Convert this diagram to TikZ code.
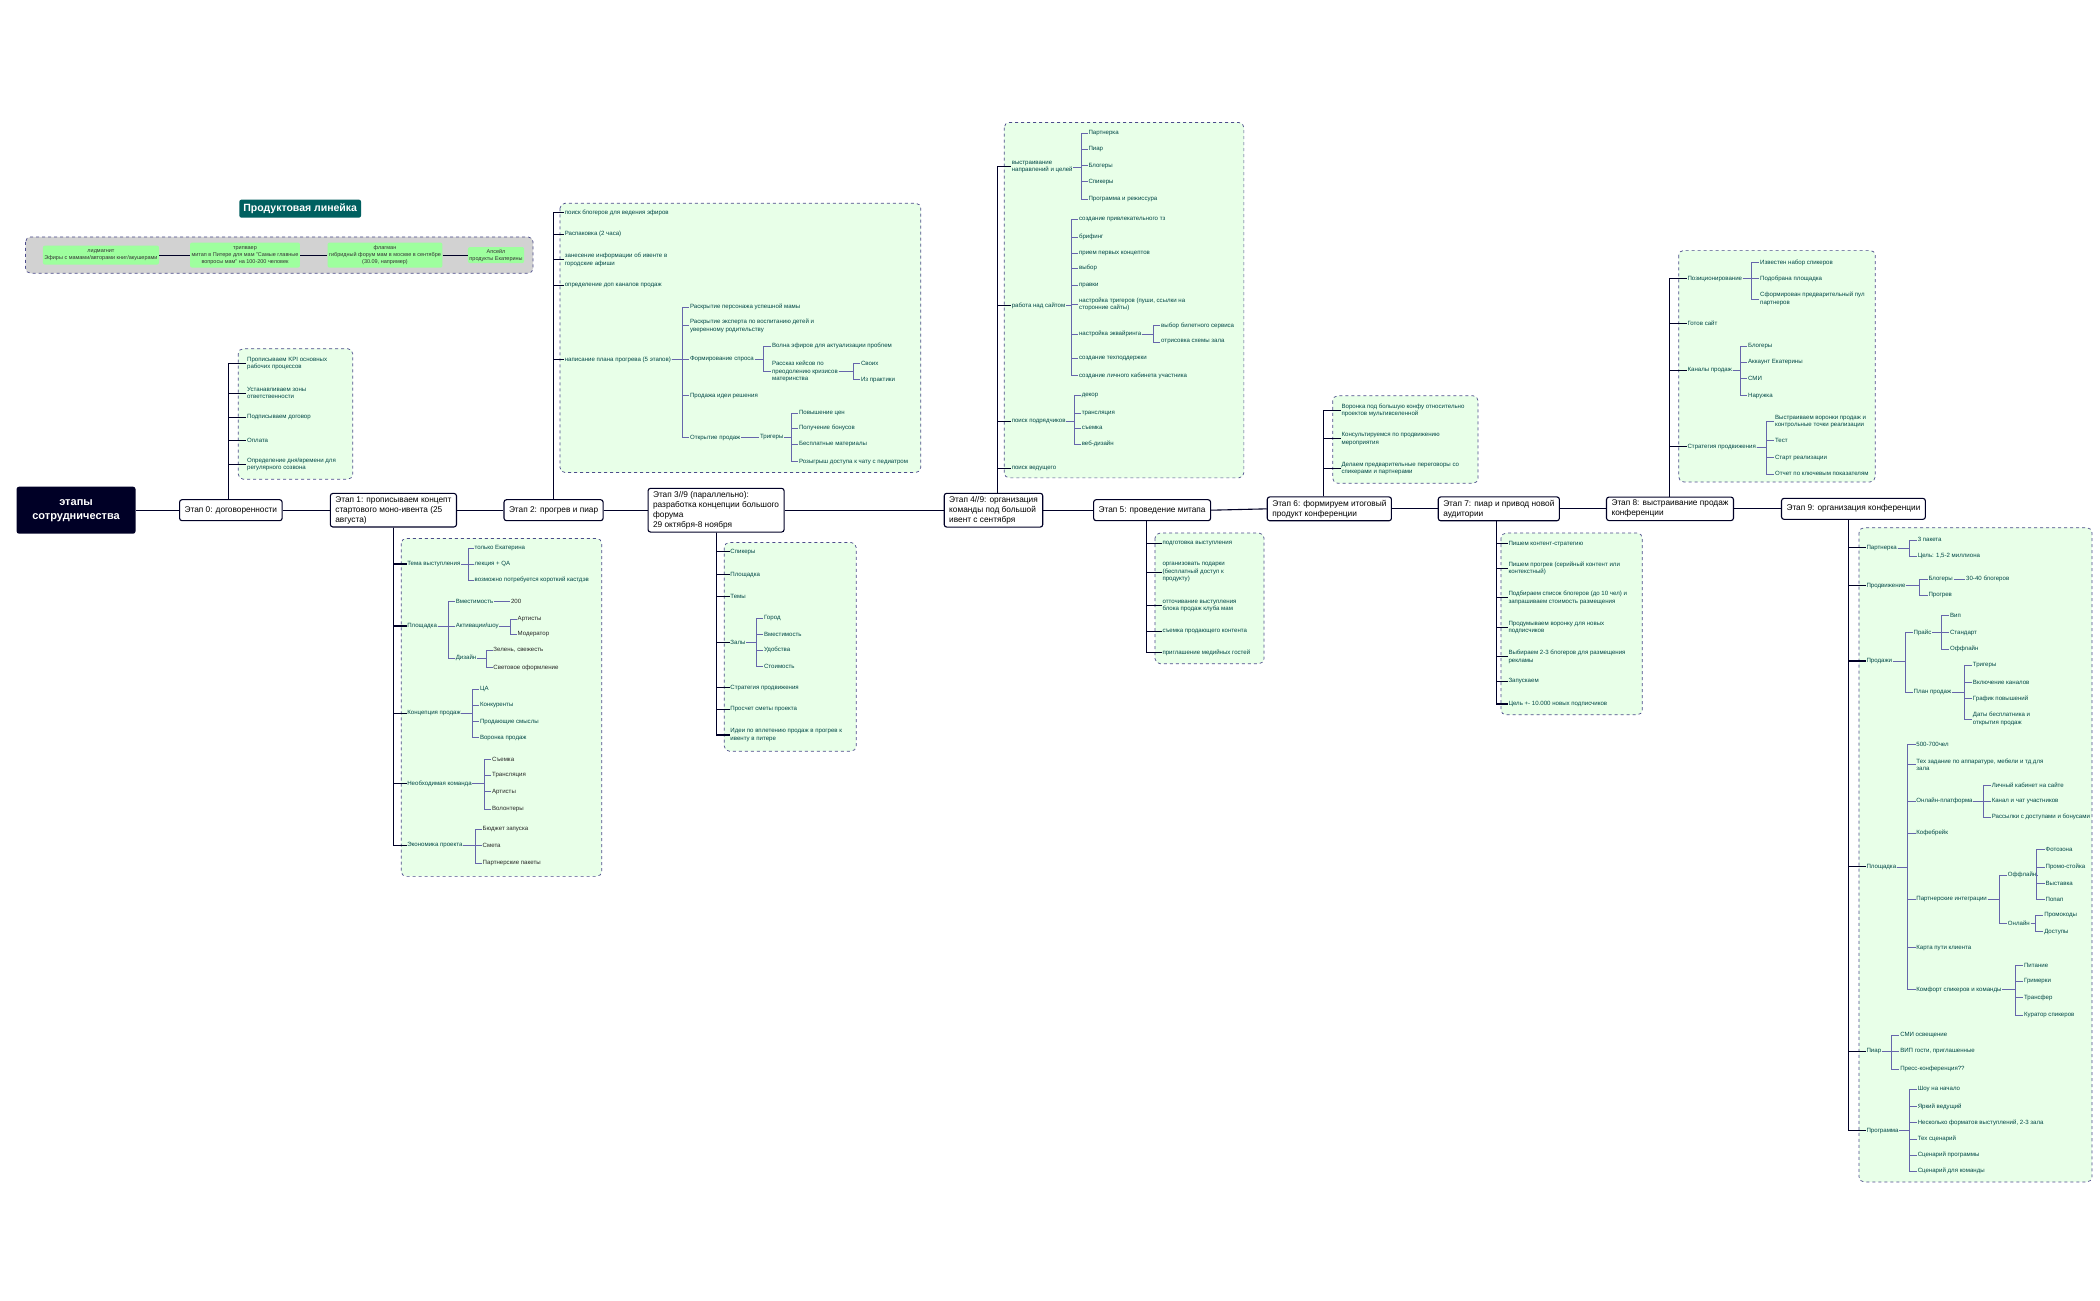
\documentclass[tikz,border=0pt]{standalone}
\usepackage{fontspec}
\setmainfont{Liberation Sans}
\begin{document}
\begin{tikzpicture}[x=1.346pt,y=-1.346pt,
 lf/.style={anchor=west,inner sep=0.6pt,text=teal!55!black,font=\fontsize{6.1}{7.4}\selectfont,align=left},
 lfb/.style={lf,text=black!85},
 stg/.style={draw=black!85!blue,line width=1.1pt,rounded corners=2.5pt,fill=white,anchor=west,inner xsep=5pt,inner ysep=3pt,align=left,font=\fontsize{8.3}{10}\selectfont},
 grp/.style={draw=black!65!blue!70,dashed,line width=0.7pt,fill=green!9,rounded corners=5pt},
 sp/.style={draw=black!85!blue,line width=1.1pt},
 sub/.style={draw=black!55!blue!60,line width=0.6pt},
 prod/.style={fill=green!38,inner sep=1.5pt,align=center,font=\fontsize{5.5}{7}\selectfont,rounded corners=2pt,text=black!80}]
\newcommand\myleaf[5][lf]{\node[#1] (#2) at (#3,#4) {#5};}
\newcommand\mybr[3]{\coordinate (tmpx) at (#2,0); \draw[sub] (#1.east) -- (#1.east -| tmpx) |- (#3.west);}
\newcommand\mysp[3]{\coordinate (tmpx) at (#2,0); \draw[sp] (#1 -| tmpx) |- (#3.west);}
\useasboundingbox[fill=white] (0,0) rectangle (1560,966);

% ---------- product line
\node[fill=teal!75!black,text=white,font=\bfseries\fontsize{10.5}{12}\selectfont,rounded corners=2pt,inner sep=4pt] (title) at (223,155) {Продуктовая линейка};
\draw[grp,fill=gray!35] (19,176) rectangle (396,203);
\node[prod,minimum width=104,minimum height=19] (p1) at (75,189.5) {лидмагнит\\Эфиры с мамами/авторами книг/акушерами};
\node[prod,minimum width=93,minimum height=25] (p2) at (182,189.5) {трипваер\\митап в Питере для мам "Самые главные\\вопросы мам" на 100-200 человек};
\node[prod,minimum width=97,minimum height=25] (p3) at (286,189.5) {флагман\\гибридный форум мам в москве в сентябре\\(30.09, например)};
\node[prod,minimum width=48,minimum height=16] (p4) at (368.5,189.5) {Апсейл\\продукты Екатерины};
\draw[sp,line width=0.7pt] (p1) -- (p2) -- (p3) -- (p4);

% ---------- group boxes
\draw[grp] (177,259) rectangle (262,356);
\draw[grp] (298,400) rectangle (447,651);
\draw[grp] (416,151) rectangle (684,351);
\draw[grp] (538,403) rectangle (636,558);
\draw[grp] (746,91) rectangle (924,355);
\draw[grp] (858,396) rectangle (939,493);
\draw[grp] (990,294) rectangle (1098,359);
\draw[grp] (1115,396) rectangle (1220,531);
\draw[grp] (1247,186) rectangle (1393,358);
\draw[grp] (1381,392) rectangle (1554,878);

% ---------- main chain
\node[fill=black!85!blue,text=white,rounded corners=2.5pt,font=\bfseries\fontsize{11}{14}\selectfont,align=center,minimum width=119,minimum height=47] (root) at (56.5,379) {этапы\\сотрудничества};
\node[stg,minimum height=21] (s0) at (133,379) {Этап 0: договоренности};
\node[stg] (s1) at (245,379) {Этап 1: прописываем концепт\\стартового моно-ивента (25\\августа)};
\node[stg,minimum height=21] (s2) at (374,379) {Этап 2: прогрев и пиар};
\node[stg] (s3) at (481,379) {Этап 3//9 (параллельно):\\разработка концепции большого\\форума\\29 октября-8 ноября};
\node[stg] (s4) at (701,379) {Этап 4//9: организация\\команды под большой\\ивент с сентября};
\node[stg,minimum height=21] (s5) at (812,379) {Этап 5: проведение митапа};
\node[stg] (s6) at (941,378) {Этап 6: формируем итоговый\\продукт конференции};
\node[stg] (s7) at (1068,378) {Этап 7: пиар и привод новой\\аудитории};
\node[stg] (s8) at (1193,378) {Этап 8: выстраивание продаж\\конференции};
\node[stg,minimum height=21] (s9) at (1323,378) {Этап 9: организация конференции};
\foreach \a/\b in {root/s0,s0/s1,s1/s2,s2/s3,s3/s4,s4/s5,s5/s6,s6/s7,s7/s8,s8/s9}
  \draw[sp] (\a.east) -- (\b.west);

% ---------- stage 0
\myleaf{a1}{183}{270}{Прописываем KPI основных\\рабочих процессов}
\myleaf{a2}{183}{292}{Устанавливаем зоны\\ответственности}
\myleaf{a3}{183}{310}{Подписываем договор}
\myleaf{a4}{183}{327}{Оплата}
\myleaf{a5}{183}{345}{Определение дня/времени для\\регулярного созвона}
\foreach \c in {a1,a2,a3,a4,a5} {\mysp{s0.north}{170}{\c}}

% ---------- stage 1
\myleaf{b1}{302}{419}{Тема выступления}
\myleaf{b2}{302}{465}{Площадка}
\myleaf{b3}{302}{530}{Концепция продаж}
\myleaf{b4}{302}{582}{Необходимая команда}
\myleaf{b5}{302}{628}{Экономика проекта}
\foreach \c in {b1,b2,b3,b4,b5} {\mysp{s1.south}{292}{\c}}
\myleaf{b11}{352}{407}{только Екатерина}
\myleaf{b12}{352}{419}{лекция + QA}
\myleaf{b13}{352}{431}{возможно потребуется короткий кастдэв}
\foreach \c in {b11,b12,b13} {\mybr{b1}{348}{\c}}
\myleaf{b21}{338}{447}{Вместимость}
\myleaf{b22}{338}{465}{Активации/шоу}
\myleaf{b23}{338}{489}{Дизайн}
\foreach \c in {b21,b22,b23} {\mybr{b2}{333}{\c}}
\myleaf[lfb]{b211}{379}{447}{200}
\draw[sub] (b21) -- (b211);
\myleaf[lfb]{b221}{384}{460}{Артисты}
\myleaf[lfb]{b222}{384}{471}{Модератор}
\foreach \c in {b221,b222} {\mybr{b22}{379}{\c}}
\myleaf[lfb]{b231}{366}{483}{Зелень, свежесть}
\myleaf[lfb]{b232}{366}{496}{Световое оформление}
\foreach \c in {b231,b232} {\mybr{b23}{361}{\c}}
\myleaf{b31}{356}{512}{ЦА}
\myleaf{b32}{356}{524}{Конкуренты}
\myleaf{b33}{356}{536}{Продающие смыслы}
\myleaf{b34}{356}{548}{Воронка продаж}
\foreach \c in {b31,b32,b33,b34} {\mybr{b3}{351}{\c}}
\myleaf[lfb]{b41}{365}{564}{Съемка}
\myleaf[lfb]{b42}{365}{576}{Трансляция}
\myleaf[lfb]{b43}{365}{588}{Артисты}
\myleaf[lfb]{b44}{365}{601}{Волонтеры}
\foreach \c in {b41,b42,b43,b44} {\mybr{b4}{360}{\c}}
\myleaf[lfb]{b51}{358}{616}{Бюджет запуска}
\myleaf[lfb]{b52}{358}{628}{Смета}
\myleaf[lfb]{b53}{358}{641}{Партнерские пакеты}
\foreach \c in {b51,b52,b53} {\mybr{b5}{353}{\c}}

% ---------- stage 2
\myleaf{c1}{419}{158}{поиск блогеров для ведения эфиров}
\myleaf{c2}{419}{174}{Распаковка (2 часа)}
\myleaf{c3}{419}{193}{занесение информации об ивенте в\\городские афиши}
\myleaf{c4}{419}{212}{определение доп каналов продаж}
\myleaf{c5}{419}{267}{написание плана прогрева (5 этапов)}
\foreach \c in {c1,c2,c3,c4,c5} {\mysp{s2.north}{411}{\c}}
\myleaf{c51}{512}{228}{Раскрытие персонажа успешной мамы}
\myleaf{c52}{512}{242}{Раскрытие эксперта по воспитанию детей и\\уверенному родительству}
\myleaf{c53}{512}{267}{Формирование спроса}
\myleaf{c54}{512}{294}{Продажа идеи решения}
\myleaf{c55}{512}{325}{Открытие продаж}
\foreach \c in {c51,c52,c53,c54,c55} {\mybr{c5}{507}{\c}}
\myleaf{c531}{573}{257}{Волна эфиров для актуализации проблем}
\myleaf{c532}{573}{276}{Рассказ кейсов по\\преодолению кризисов\\материнства}
\foreach \c in {c531,c532} {\mybr{c53}{567}{\c}}
\myleaf{c5321}{639}{270}{Своих}
\myleaf{c5322}{639}{282}{Из практики}
\foreach \c in {c5321,c5322} {\mybr{c532}{634}{\c}}
\myleaf{c551}{564}{325}{Тригеры}
\draw[sub] (c55) -- (c551);
\myleaf{c5511}{593}{307}{Повышение цен}
\myleaf{c5512}{593}{318}{Получение бонусов}
\myleaf{c5513}{593}{330}{Бесплатные материалы}
\myleaf{c5514}{593}{343}{Розыгрыш доступа к чату с педиатром}
\foreach \c in {c5511,c5512,c5513,c5514} {\mybr{c551}{588}{\c}}

% ---------- stage 3
\myleaf{d1}{542}{410}{Спикеры}
\myleaf{d2}{542}{427}{Площадка}
\myleaf{d3}{542}{443}{Темы}
\myleaf{d4}{542}{477}{Залы}
\myleaf{d5}{542}{511}{Стратегия продвижения}
\myleaf{d6}{542}{527}{Просчет сметы проекта}
\myleaf{d7}{542}{546}{Идеи по вплетению продаж в прогрев к\\ивенту в питере}
\foreach \c in {d1,d2,d3,d4,d5,d6,d7} {\mysp{s3.south}{532}{\c}}
\myleaf{d41}{567}{459}{Город}
\myleaf{d42}{567}{471}{Вместимость}
\myleaf{d43}{567}{483}{Удобства}
\myleaf{d44}{567}{495}{Стоимость}
\foreach \c in {d41,d42,d43,d44} {\mybr{d4}{562}{\c}}

% ---------- stage 4
\myleaf{e1}{751}{124}{выстраивание\\направлений и целей}
\myleaf{e2}{751}{227}{работа над сайтом}
\myleaf{e3}{751}{313}{поиск подрядчиков}
\myleaf{e4}{751}{348}{поиск ведущего}
\foreach \c in {e1,e2,e3,e4} {\mysp{s4.north}{741}{\c}}
\myleaf{e11}{808}{99}{Партнерка}
\myleaf{e12}{808}{111}{Пиар}
\myleaf{e13}{808}{123}{Блогеры}
\myleaf{e14}{808}{135}{Спикеры}
\myleaf{e15}{808}{148}{Программа и режиссура}
\foreach \c in {e11,e12,e13,e14,e15} {\mybr{e1}{803}{\c}}
\myleaf{e21}{801}{163}{создание привлекательного тз}
\myleaf{e22}{801}{176}{брифинг}
\myleaf{e23}{801}{188}{прием первых концептов}
\myleaf{e24}{801}{199}{выбор}
\myleaf{e25}{801}{212}{правки}
\myleaf{e26}{801}{226}{настройка тригеров (пуши, ссылки на\\сторонние сайты)}
\myleaf{e27}{801}{248}{настройка эквайринга}
\myleaf{e28}{801}{266}{создание техподдержки}
\myleaf{e29}{801}{279}{создание личного кабинета участника}
\foreach \c in {e21,e22,e23,e24,e25,e26,e27,e28,e29} {\mybr{e2}{796}{\c}}
\myleaf{e271}{862}{242}{выбор билетного сервиса}
\myleaf{e272}{862}{254}{отрисовка схемы зала}
\foreach \c in {e271,e272} {\mybr{e27}{857}{\c}}
\myleaf{e31}{803}{294}{декор}
\myleaf{e32}{803}{307}{трансляция}
\myleaf{e33}{803}{318}{съемка}
\myleaf{e34}{803}{330}{веб-дизайн}
\foreach \c in {e31,e32,e33,e34} {\mybr{e3}{798}{\c}}

% ---------- stage 5
\myleaf{f1}{863}{404}{подготовка выступления}
\myleaf{f2}{863}{425}{организовать подарки\\ (бесплатный доступ к\\продукту)}
\myleaf{f3}{863}{450}{отточивание выступления\\блока продаж клуба мам}
\myleaf{f4}{863}{469}{съемка продающего контента}
\myleaf{f5}{863}{485}{приглашение медийных гостей}
\foreach \c in {f1,f2,f3,f4,f5} {\mysp{s5.south}{852}{\c}}

% ---------- stage 6
\myleaf{g1}{996}{305}{Воронка под большую конфу относительно\\проектов мультивселенной}
\myleaf{g2}{996}{326}{Консультируемся по продвижению\\мероприятия}
\myleaf{g3}{996}{348}{Делаем предварительные переговоры со\\спикерами и партнерами}
\foreach \c in {g1,g2,g3} {\mysp{s6.north}{983}{\c}}

% ---------- stage 7
\myleaf{h1}{1120}{404}{Пишем контент-стратегию}
\myleaf{h2}{1120}{422}{Пишем прогрев (серийный контент или\\контекстный)}
\myleaf{h3}{1120}{444}{Подбираем список блогеров (до 10 чел) и\\запрашиваем стоимость размещения}
\myleaf{h4}{1120}{466}{Продумываем воронку для новых\\подписчиков}
\myleaf{h5}{1120}{488}{Выбираем 2-3 блогеров для размещения\\рекламы}
\myleaf{h6}{1120}{506}{Запускаем}
\myleaf{h7}{1120}{523}{Цель +- 10.000 новых подписчиков}
\foreach \c in {h1,h2,h3,h4,h5,h6,h7} {\mysp{s7.south}{1112}{\c}}

% ---------- stage 8
\myleaf{k1}{1253}{207}{Позиционирование}
\myleaf{k2}{1253}{240}{Готов сайт}
\myleaf{k3}{1253}{275}{Каналы продаж}
\myleaf{k4}{1253}{332}{Стратегия продвижения}
\foreach \c in {k1,k2,k3,k4} {\mysp{s8.north}{1240}{\c}}
\myleaf{k11}{1307}{195}{Известен набор спикеров}
\myleaf{k12}{1307}{207}{Подобрана площадка}
\myleaf{k13}{1307}{222}{Сформирован предварительный пул\\партнеров}
\foreach \c in {k11,k12,k13} {\mybr{k1}{1301}{\c}}
\myleaf{k31}{1298}{257}{Блогеры}
\myleaf{k32}{1298}{269}{Аккаунт Екатерины}
\myleaf{k33}{1298}{281}{СМИ}
\myleaf{k34}{1298}{294}{Наружка}
\foreach \c in {k31,k32,k33,k34} {\mybr{k3}{1293}{\c}}
\myleaf{k41}{1318}{313}{Выстраиваем воронки продаж и\\контрольные точки реализации}
\myleaf{k42}{1318}{327}{Тест}
\myleaf{k43}{1318}{340}{Старт реализации}
\myleaf{k44}{1318}{352}{Отчет по ключевым показателям}
\foreach \c in {k41,k42,k43,k44} {\mybr{k4}{1312}{\c}}

% ---------- stage 9
\myleaf{m1}{1386}{407}{Партнерка}
\myleaf{m2}{1386}{435}{Продвижение}
\myleaf{m3}{1386}{491}{Продажи}
\myleaf{m4}{1386}{644}{Площадка}
\myleaf{m5}{1386}{781}{Пиар}
\myleaf{m6}{1386}{840}{Программа}
\foreach \c in {m1,m2,m3,m4,m5,m6} {\mysp{s9.south}{1373}{\c}}
\myleaf{m11}{1424}{401}{3 пакета}
\myleaf{m12}{1424}{413}{Цель: 1,5-2 миллиона}
\foreach \c in {m11,m12} {\mybr{m1}{1418}{\c}}
\myleaf{m21}{1432}{430}{Блогеры}
\myleaf{m22}{1432}{442}{Прогрев}
\foreach \c in {m21,m22} {\mybr{m2}{1426}{\c}}
\myleaf{m211}{1460}{430}{30-40 блогеров}
\draw[sub] (m21) -- (m211);
\myleaf{m31}{1421}{470}{Прайс}
\myleaf{m32}{1421}{514}{План продаж}
\foreach \c in {m31,m32} {\mybr{m3}{1415}{\c}}
\myleaf{m311}{1448}{457}{Вип}
\myleaf{m312}{1448}{470}{Стандарт}
\myleaf{m313}{1448}{482}{Оффлайн}
\foreach \c in {m311,m312,m313} {\mybr{m31}{1442}{\c}}
\myleaf{m321}{1465}{494}{Тригеры}
\myleaf{m322}{1465}{507}{Включение каналов}
\myleaf{m323}{1465}{519}{График повышений}
\myleaf{m324}{1465}{534}{Даты бесплатника и\\открытия продаж}
\foreach \c in {m321,m322,m323,m324} {\mybr{m32}{1459}{\c}}
\myleaf{m41}{1423}{553}{500-700чел}
\myleaf{m42}{1423}{568}{Тех задание по аппаратуре, мебели и тд для\\зала}
\myleaf{m43}{1423}{595}{Онлайн-платформа}
\myleaf{m44}{1423}{619}{Кофебрейк}
\myleaf{m45}{1423}{668}{Партнерские интеграции}
\myleaf{m46}{1423}{704}{Карта пути клиента}
\myleaf{m47}{1423}{735}{Комфорт спикеров и команды}
\foreach \c in {m41,m42,m43,m44,m45,m46,m47} {\mybr{m4}{1417}{\c}}
\myleaf{m431}{1479}{583}{Личный кабинет на сайте}
\myleaf{m432}{1479}{595}{Канал и чат участников}
\myleaf{m433}{1479}{607}{Рассылки с доступами и бонусами}
\foreach \c in {m431,m432,m433} {\mybr{m43}{1473}{\c}}
\myleaf{m451}{1491}{650}{Оффлайн}
\myleaf{m452}{1491}{686}{Онлайн}
\foreach \c in {m451,m452} {\mybr{m45}{1485}{\c}}
\myleaf{m4511}{1519}{631}{Фотозона}
\myleaf{m4512}{1519}{644}{Промо-стойка}
\myleaf{m4513}{1519}{656}{Выставка}
\myleaf{m4514}{1519}{668}{Попап}
\foreach \c in {m4511,m4512,m4513,m4514} {\mybr{m451}{1513}{\c}}
\myleaf{m4521}{1518}{680}{Промокоды}
\myleaf{m4522}{1518}{692}{Доступы}
\foreach \c in {m4521,m4522} {\mybr{m452}{1512}{\c}}
\myleaf{m471}{1503}{717}{Питание}
\myleaf{m472}{1503}{729}{Гримерки}
\myleaf{m473}{1503}{741}{Трансфер}
\myleaf{m474}{1503}{754}{Куратор спикеров}
\foreach \c in {m471,m472,m473,m474} {\mybr{m47}{1497}{\c}}
\myleaf{m51}{1411}{769}{СМИ освещение}
\myleaf{m52}{1411}{781}{ВИП гости, приглашенные}
\myleaf{m53}{1411}{794}{Пресс-конференция??}
\foreach \c in {m51,m52,m53} {\mybr{m5}{1405}{\c}}
\myleaf{m61}{1424}{809}{Шоу на начало}
\myleaf{m62}{1424}{822}{Яркий ведущий}
\myleaf{m63}{1424}{834}{Несколько форматов выступлений, 2-3 зала}
\myleaf{m64}{1424}{846}{Тех сценарий}
\myleaf{m65}{1424}{858}{Сценарий программы}
\myleaf{m66}{1424}{870}{Сценарий для команды}
\foreach \c in {m61,m62,m63,m64,m65,m66} {\mybr{m6}{1418}{\c}}
\end{tikzpicture}
\end{document}
